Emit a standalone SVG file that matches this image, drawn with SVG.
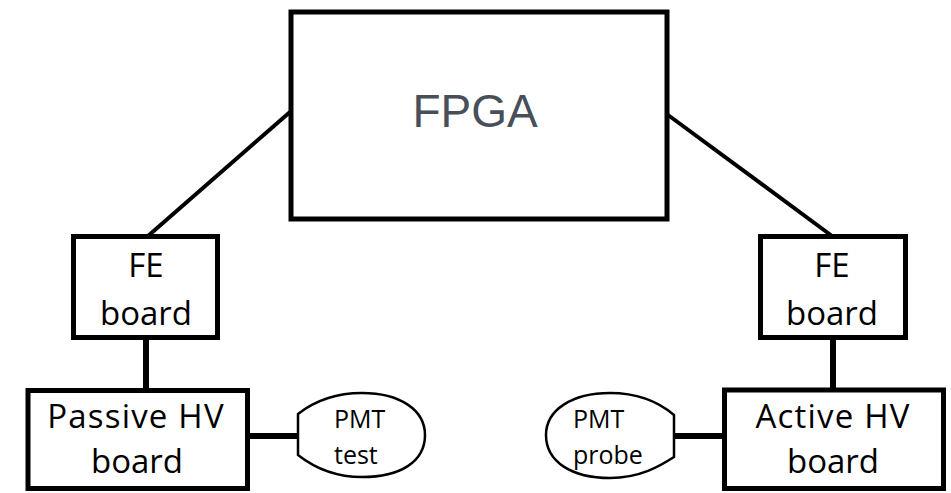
<svg xmlns="http://www.w3.org/2000/svg" width="951" height="493" viewBox="0 0 951 493">
<style>
.box{fill:#fff;stroke:#000;stroke-width:5}
.lbl{font-family:"Open Sans","Liberation Sans",sans-serif;font-size:33px;fill:#000;text-anchor:middle}
.wide{letter-spacing:1.2px}
.small{font-family:"Open Sans","Liberation Sans",sans-serif;font-size:25px;fill:#000}
.bulb{fill:#fff;stroke:#000;stroke-width:2.5}
.wire{stroke:#000;fill:none}
</style>
<rect width="951" height="493" fill="#fff"/>
<g id="connectors">
<line class="wire" x1="290" y1="112" x2="148" y2="236" stroke-width="4"/>
<line class="wire" x1="668" y1="115" x2="832" y2="236" stroke-width="4"/>
<line class="wire" x1="146" y1="340" x2="146" y2="388" stroke-width="6"/>
<line class="wire" x1="833" y1="340" x2="833" y2="388" stroke-width="6"/>
<line class="wire" x1="250" y1="436" x2="301" y2="436" stroke-width="6"/>
<line class="wire" x1="671" y1="436" x2="722" y2="436" stroke-width="6"/>
</g>
<g id="fpga">
<rect class="box" x="291" y="12" width="376" height="207"/>
<text x="475" y="127" font-family="'Liberation Sans',Arial,sans-serif" font-size="46" fill="#474f59" text-anchor="middle">FPGA</text>
</g>
<g id="fe-left">
<rect class="box" x="73.5" y="236.5" width="144" height="101"/>
<text class="lbl" x="146" y="277">FE</text>
<text class="lbl" x="146" y="325">board</text>
</g>
<g id="fe-right">
<rect class="box" x="760.5" y="236.5" width="145" height="101"/>
<text class="lbl" x="832" y="277">FE</text>
<text class="lbl" x="832" y="325">board</text>
</g>
<g id="passive-hv">
<rect class="box" x="28" y="390.5" width="219.5" height="98"/>
<text class="lbl wide" x="136" y="428">Passive HV</text>
<text class="lbl" x="137" y="473">board</text>
</g>
<g id="active-hv">
<rect class="box" x="724.5" y="390" width="219" height="98.5"/>
<text class="lbl wide" x="833" y="428">Active HV</text>
<text class="lbl" x="833" y="473">board</text>
</g>
<g id="pmt-test">
<path class="bulb" d="M298,414 C312,403 332,393 362,393 C400,393 425,410 425,435 C425,462 400,477 362,477 C332,477 312,466 298,455 Z"/>
<text class="small" x="334" y="428">PMT</text>
<text class="small" x="334" y="464">test</text>
</g>
<g id="pmt-probe">
<path class="bulb" d="M674,415 C660,403 640,393 610,393 C572,393 546,410 546,435 C546,462 572,478 610,478 C640,478 660,466 674,457 Z"/>
<text class="small" x="573" y="428">PMT</text>
<text class="small" x="573" y="464">probe</text>
</g>
</svg>
